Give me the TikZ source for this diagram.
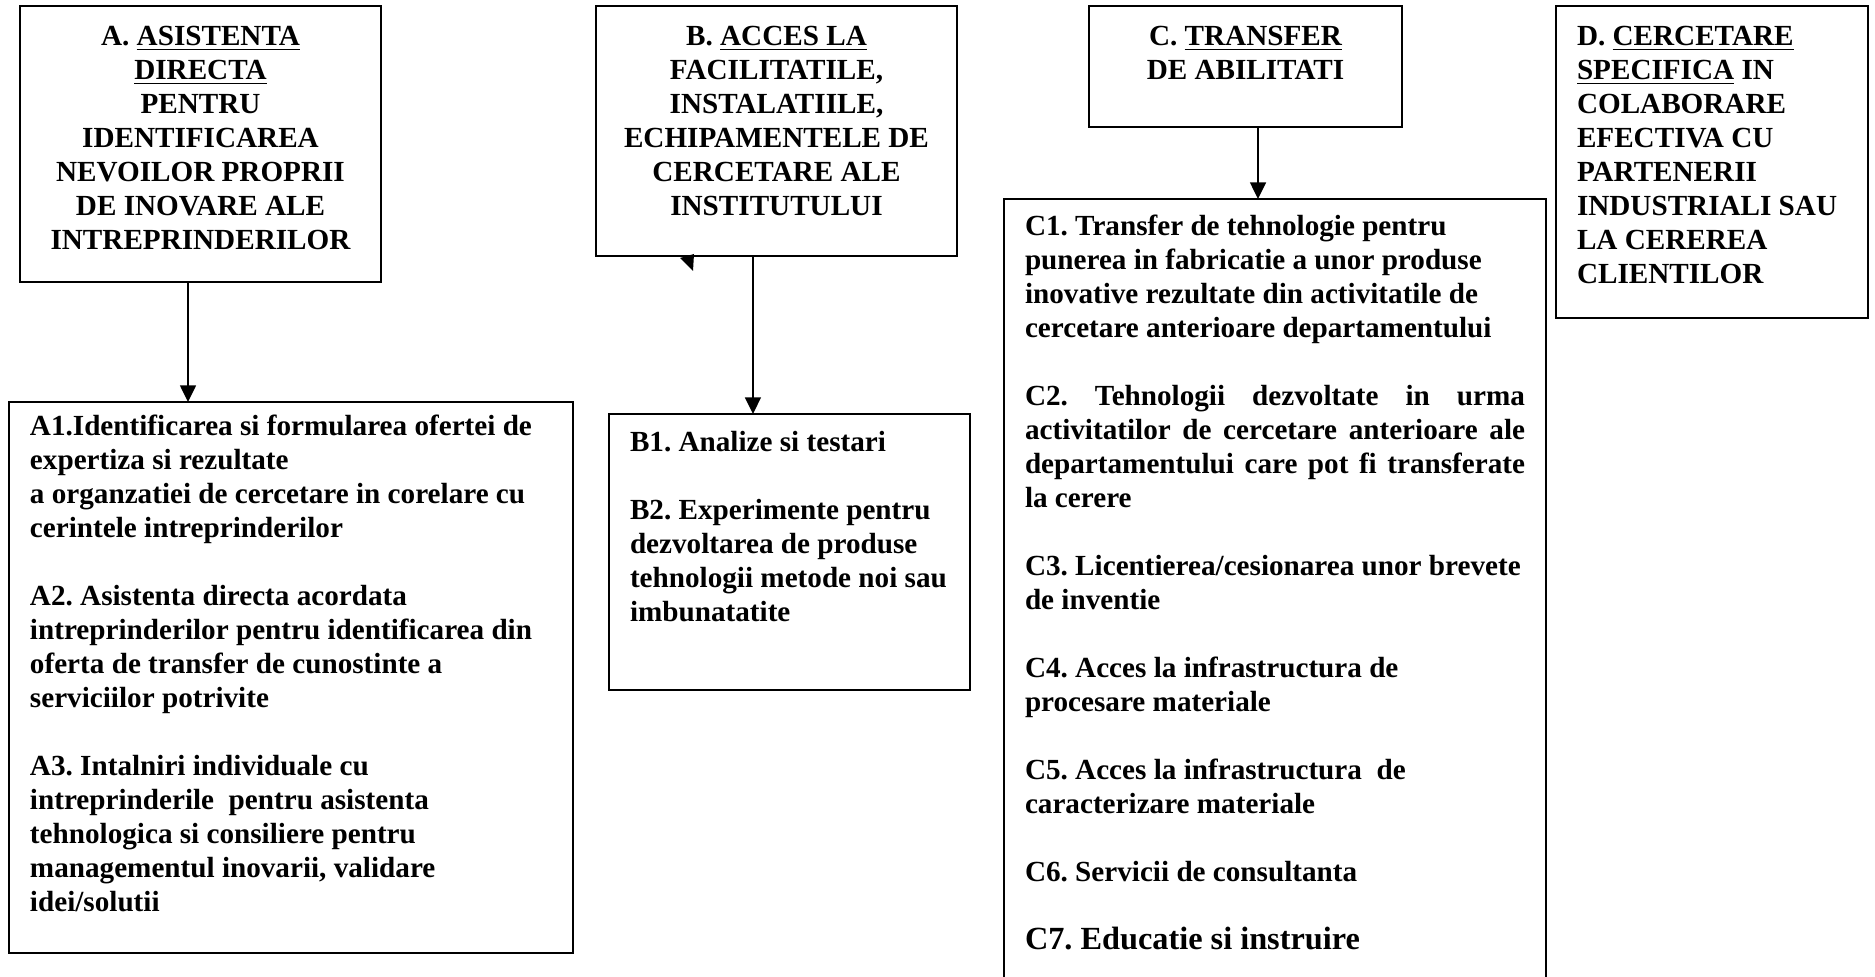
\documentclass[tikz,border=0pt]{standalone}
\usepackage{fontspec}
\setmainfont{Liberation Serif}
\usetikzlibrary{arrows.meta}
\frenchspacing
\newlength{\pxunit}
\setlength{\pxunit}{0.48pt}
\newcommand{\boxbody}[5]{\begin{minipage}[t][#2\pxunit][t]{#1\pxunit}#4\rule{0pt}{#3\pxunit}#5\end{minipage}}

\begin{document}
\begin{tikzpicture}[
  x=0.48pt, y=-0.48pt,
  every node/.style={font=\fontsize{14}{16.3}\selectfont\bfseries},
  panel/.style={draw, line width=0.8pt, anchor=north west, inner xsep=21\pxunit, inner ysep=0pt, outer sep=0pt},
  arrowstyle/.style={-{Triangle[length=8pt,width=7.6pt]}, line width=1pt}
]
  \useasboundingbox (0,0) rectangle (1875,977);
  \fill[white] (0,0) rectangle (1875,977);
  \clip (0,0) rectangle (1875,977);

  \node[panel] (boxa) at (20,6) {\boxbody{319}{276}{40}{\centering}{%
    A. \underline{ASISTENTA}\\
    \underline{DIRECTA}\\
    PENTRU\\
    IDENTIFICAREA\\
    NEVOILOR PROPRII\\
    DE INOVARE ALE\\
    INTREPRINDERILOR}};
  \node[panel] (lista) at (9,402) {\boxbody{522}{551}{34}{\raggedright}{%
    A1.Identificarea si formularea ofertei de\\
    expertiza si rezultate\\
    a organzatiei de cercetare in corelare cu\\
    cerintele intreprinderilor\\[\baselineskip]
    A2. Asistenta directa acordata\\
    intreprinderilor pentru identificarea din\\
    oferta de transfer de cunostinte a\\
    serviciilor potrivite\\[\baselineskip]
    A3. Intalniri individuale cu\\
    intreprinderile\ \ pentru asistenta\\
    tehnologica si consiliere pentru\\
    managementul inovarii, validare\\
    idei/solutii}};

  \node[panel] (boxb) at (596,6) {\boxbody{319}{250}{40}{\centering}{%
    B. \underline{ACCES LA}\\
    FACILITATILE,\\
    INSTALATIILE,\\
    ECHIPAMENTELE DE\\
    CERCETARE ALE\\
    INSTITUTULUI}};
  \node[panel] (listb) at (609,414) {\boxbody{319}{276}{38}{\raggedright}{%
    B1. Analize si testari\\[\baselineskip]
    B2. Experimente pentru\\
    dezvoltarea de produse\\
    tehnologii metode noi sau\\
    imbunatatite}};

  \node[panel] (boxc) at (1089,6) {\boxbody{271}{121}{40}{\centering}{%
    C. \underline{TRANSFER}\\
    DE ABILITATI}};
  \node[panel] (listc) at (1004,199) {\boxbody{500}{808}{37}{\raggedright}{%
    C1. Transfer de tehnologie pentru\\
    punerea in fabricatie a unor produse\\
    inovative rezultate din activitatile de\\
    cercetare anterioare departamentului\\[\baselineskip]
    \makebox[\linewidth][s]{C2. Tehnologii dezvoltate in urma}\\
    \makebox[\linewidth][s]{activitatilor de cercetare anterioare ale}\\
    \makebox[\linewidth][s]{departamentului care pot fi transferate}\\
    la cerere\\[\baselineskip]
    C3. Licentierea/cesionarea unor brevete\\
    de inventie\\[\baselineskip]
    C4. Acces la infrastructura de\\
    procesare materiale\\[\baselineskip]
    C5. Acces la infrastructura\ \ de\\
    caracterizare materiale\\[\baselineskip]
    C6. Servicii de consultanta\\[\baselineskip]
    {\fontsize{15.5}{17}\selectfont C7. Educatie si instruire}}};

  \node[panel] (boxd) at (1556,6) {\boxbody{270}{312}{40}{\raggedright}{%
    D. \underline{CERCETARE}\\
    \underline{SPECIFICA} IN\\
    COLABORARE\\
    EFECTIVA CU\\
    PARTENERII\\
    INDUSTRIALI SAU\\
    LA CEREREA\\
    CLIENTILOR}};

  \draw[arrowstyle] ([xshift=-6pt]boxa.south) -- ([xshift=-6pt]boxa.south |- lista.north);
  \draw[arrowstyle] ([xshift=-11.3pt]boxb.south) -- ([xshift=-11.3pt]boxb.south |- listb.north);
  \draw[arrowstyle] ([xshift=6pt]boxc.south) -- ([xshift=6pt]boxc.south |- listc.north);
  \fill (680,258) -- (694,254) -- (693,271) -- cycle;
\end{tikzpicture}
\end{document}
